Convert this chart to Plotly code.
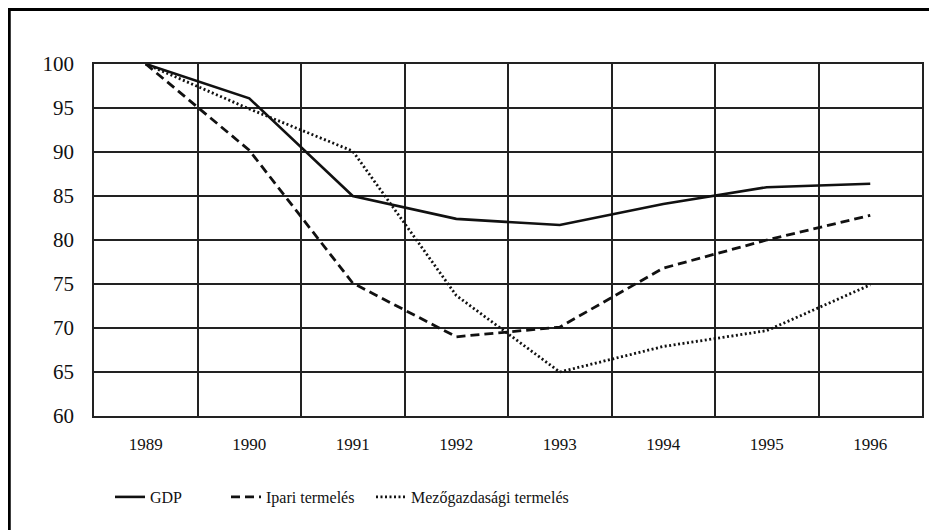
import plotly.graph_objects as go

years = ["1989", "1990", "1991", "1992", "1993", "1994", "1995", "1996"]
gdp = [100, 96.1, 85.0, 82.4, 81.7, 84.1, 86.0, 86.4]
ipari = [100, 90.2, 75.1, 69.0, 70.1, 76.8, 80.0, 82.8]
mezo = [100, 94.9, 90.1, 73.7, 65.0, 67.9, 69.7, 74.9]
y_ticks = [60, 65, 70, 75, 80, 85, 90, 95, 100]

xpos = list(range(len(years)))
FONT = "Liberation Serif, Times New Roman, DejaVu Serif, serif"
INK = "#111111"

fig = go.Figure()
fig.add_trace(go.Scatter(x=xpos, y=gdp, mode="lines", name="GDP",
                         line=dict(color=INK, width=2.6), legend="legend"))
fig.add_trace(go.Scatter(x=xpos, y=ipari, mode="lines", name="Ipari termelés",
                         line=dict(color=INK, width=2.8, dash="9px,5px"), legend="legend2"))
fig.add_trace(go.Scatter(x=xpos, y=mezo, mode="lines", name="Mezőgazdasági termelés",
                         line=dict(color=INK, width=2.8, dash="2px,2.5px"), legend="legend3"))

OFF = 8  # page body margin
W, H = 937 - OFF, 530 - OFF
L, T = 94 - OFF, 64 - OFF
R = W - (922 - OFF)
B = H - (416 - OFF)
pw, ph = W - L - R, H - T - B

def px(xpage):
    return (xpage - OFF - L) / pw

def py(ypage):
    return (H - B - (ypage - OFF)) / ph

legend_common = dict(orientation="h", yanchor="middle", xanchor="left",
                     y=py(497), font=dict(family=FONT, size=16, color=INK),
                     bgcolor="rgba(0,0,0,0)", borderwidth=0)

fig.update_layout(
    width=W, height=H,
    margin=dict(l=L, r=R, t=T, b=B),
    paper_bgcolor="white", plot_bgcolor="white",
    showlegend=True,
    legend=dict(x=px(110), **legend_common),
    legend2=dict(x=px(226), **legend_common),
    legend3=dict(x=px(371), **legend_common),
    xaxis=dict(
        range=[-0.5, len(years) - 0.5],
        tickmode="array", tickvals=xpos, ticktext=years,
        showgrid=False, zeroline=False,
        showline=True, linecolor="#222", linewidth=1.5, mirror=True,
        ticks="", ticklabelstandoff=12,
        tickfont=dict(family=FONT, size=17, color=INK),
        minor=dict(tickvals=[i - 0.5 for i in range(len(years) + 1)],
                   showgrid=True, gridcolor="#222", gridwidth=1.5, ticks=""),
    ),
    yaxis=dict(
        range=[60, 100],
        tickmode="array", tickvals=y_ticks,
        showgrid=True, gridcolor="#222", gridwidth=1.5, zeroline=False,
        showline=True, linecolor="#222", linewidth=1.5, mirror=True,
        ticks="", ticklabelstandoff=14,
        tickfont=dict(family=FONT, size=21, color=INK),
    ),
    shapes=[
        dict(type="line", xref="paper", yref="paper",
             x0=px(9), x1=px(9), y0=py(8), y1=py(540),
             line=dict(color="black", width=3.5)),
        dict(type="line", xref="paper", yref="paper",
             x0=px(8), x1=px(945), y0=py(9.3), y1=py(9.3),
             line=dict(color="black", width=3.5)),
    ],
)

fig.write_html("out.html")
